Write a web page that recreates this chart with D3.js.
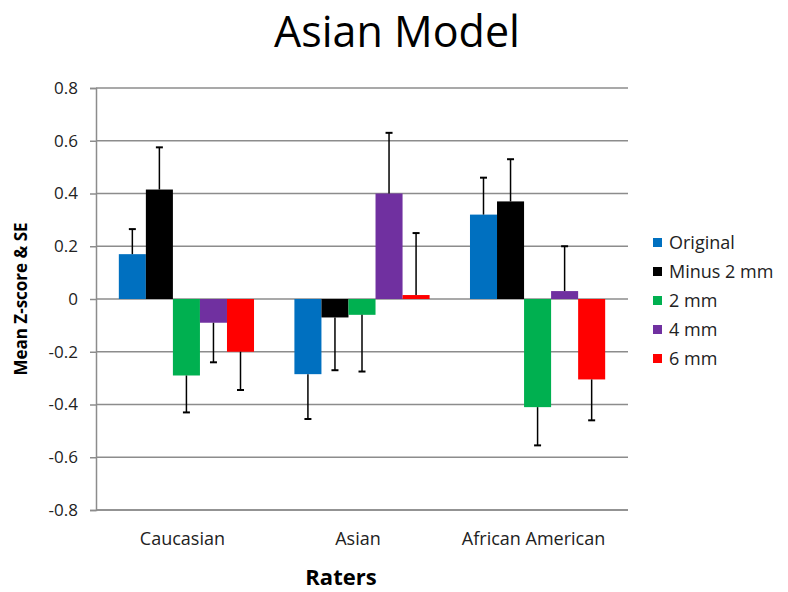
<!DOCTYPE html>
<html>
<head>
  <meta charset="utf-8">
  <title>Asian Model</title>
  <style>
    body { margin: 0; background: #fff; }
    text { font-family: "Open Sans", "Liberation Sans", sans-serif; }
  </style>
  <script src="https://d3js.org/d3.v7.min.js"></script>
</head>
<body>
  <div id="chart"></div>
  <script>
    const categories = ['Caucasian', 'Asian', 'African American'];
    const seriesNames = ['Original', 'Minus 2 mm', '2 mm', '4 mm', '6 mm'];
    const colors = ['#0070C0', '#000000', '#00B050', '#7030A0', '#FF0000'];

    // mean z-score per series, in category order
    const original = [0.17, -0.285, 0.32];
    const minus2 = [0.415, -0.07, 0.37];
    const plus2 = [-0.29, -0.06, -0.41];
    const plus4 = [-0.09, 0.40, 0.03];
    const plus6 = [-0.20, 0.015, -0.305];

    // standard errors (drawn one-sided, away from zero)
    const seOriginal = [0.095, 0.17, 0.14];
    const seMinus2 = [0.16, 0.20, 0.16];
    const sePlus2 = [0.14, 0.215, 0.145];
    const sePlus4 = [0.15, 0.23, 0.17];
    const sePlus6 = [0.145, 0.235, 0.155];

    const yTicks = [-0.8, -0.6, -0.4, -0.2, 0, 0.2, 0.4, 0.6, 0.8];

    const values = [original, minus2, plus2, plus4, plus6];
    const errors = [seOriginal, seMinus2, sePlus2, sePlus4, sePlus6];

    const W = 788, H = 592;
    const margin = { top: 88, right: 160, bottom: 82, left: 96 };
    const width = W - margin.left - margin.right;
    const height = H - margin.top - margin.bottom;

    const svg = d3.select('#chart').append('svg')
      .attr('width', W).attr('height', H);

    const g = svg.append('g')
      .attr('transform', `translate(${margin.left},${margin.top})`);

    const x0 = d3.scaleBand().domain(categories).range([0, width])
      .paddingInner(0.23).paddingOuter(0.13);
    const x1 = d3.scaleBand().domain(seriesNames).range([0, x0.bandwidth()]);
    const y = d3.scaleLinear().domain([-0.8, 0.8]).range([height, 0]);

    // gridlines
    g.selectAll('.grid').data(yTicks).enter().append('line')
      .attr('x1', 0).attr('x2', width)
      .attr('y1', d => y(d)).attr('y2', d => y(d))
      .attr('stroke', '#8c8c8c').attr('stroke-width', 1.5);

    // y axis
    const yAxis = g.append('g')
      .call(d3.axisLeft(y).tickValues(yTicks).tickSize(6).tickPadding(12)
        .tickFormat(d => d === 0 ? '0' : d3.format('.1f')(d).replace('\u2212', '-')));
    yAxis.select('.domain').attr('stroke', '#8c8c8c').attr('stroke-width', 1.5);
    yAxis.selectAll('.tick line').attr('stroke', '#8c8c8c').attr('stroke-width', 1.5);
    yAxis.selectAll('.tick text')
      .style('font-size', '17px').attr('fill', '#222');

    // bottom axis line
    g.append('line')
      .attr('x1', 0).attr('x2', width)
      .attr('y1', height).attr('y2', height)
      .attr('stroke', '#8c8c8c').attr('stroke-width', 1.5);

    // category labels
    g.selectAll('.cat').data(categories).enter().append('text')
      .attr('x', d => x0(d) + x0.bandwidth() / 2 - 4)
      .attr('y', height + 35)
      .attr('text-anchor', 'middle')
      .style('font-size', '18px').attr('fill', '#222')
      .text(d => d);

    // bars
    const groups = g.selectAll('.grp').data(categories).enter().append('g')
      .attr('transform', d => `translate(${x0(d)},0)`);

    groups.each(function(cat, ci) {
      const grp = d3.select(this);
      seriesNames.forEach((s, si) => {
        const v = values[si][ci];
        const e = errors[si][ci];
        const bx = x1(s);
        grp.append('rect')
          .attr('x', bx).attr('width', x1.bandwidth())
          .attr('y', y(Math.max(0, v)))
          .attr('height', Math.abs(y(v) - y(0)))
          .attr('fill', colors[si]);
        const cx = bx + x1.bandwidth() / 2;
        const end = v >= 0 ? v + e : v - e;
        grp.append('line')
          .attr('x1', cx).attr('x2', cx)
          .attr('y1', y(v)).attr('y2', y(end))
          .attr('stroke', '#000').attr('stroke-width', 1.5);
        grp.append('line')
          .attr('x1', cx - 3.5).attr('x2', cx + 3.5)
          .attr('y1', y(end)).attr('y2', y(end))
          .attr('stroke', '#000').attr('stroke-width', 2);
      });
    });

    // title
    svg.append('text')
      .attr('x', 397).attr('y', 47)
      .attr('text-anchor', 'middle')
      .style('font-size', '43px').attr('fill', '#000')
      .text('Asian Model');

    // axis titles
    svg.append('text')
      .attr('transform', `translate(27,${margin.top + y(0)}) rotate(-90)`)
      .attr('text-anchor', 'middle')
      .style('font-size', '17px').style('font-weight', 'bold')
      .text('Mean  Z-score & SE');

    svg.append('text')
      .attr('x', 341).attr('y', 585)
      .attr('text-anchor', 'middle')
      .style('font-size', '22px').style('font-weight', 'bold')
      .text('Raters');

    // legend
    const legend = svg.append('g').attr('transform', 'translate(653,243)');
    seriesNames.forEach((s, i) => {
      const row = legend.append('g').attr('transform', `translate(0,${i * 29})`);
      row.append('rect').attr('x', 0).attr('y', -5).attr('width', 9).attr('height', 9)
        .attr('fill', colors[i]);
      row.append('text').attr('x', 16).attr('y', 6)
        .style('font-size', '18px').attr('fill', '#222')
        .text(s);
    });
  </script>
</body>
</html>
